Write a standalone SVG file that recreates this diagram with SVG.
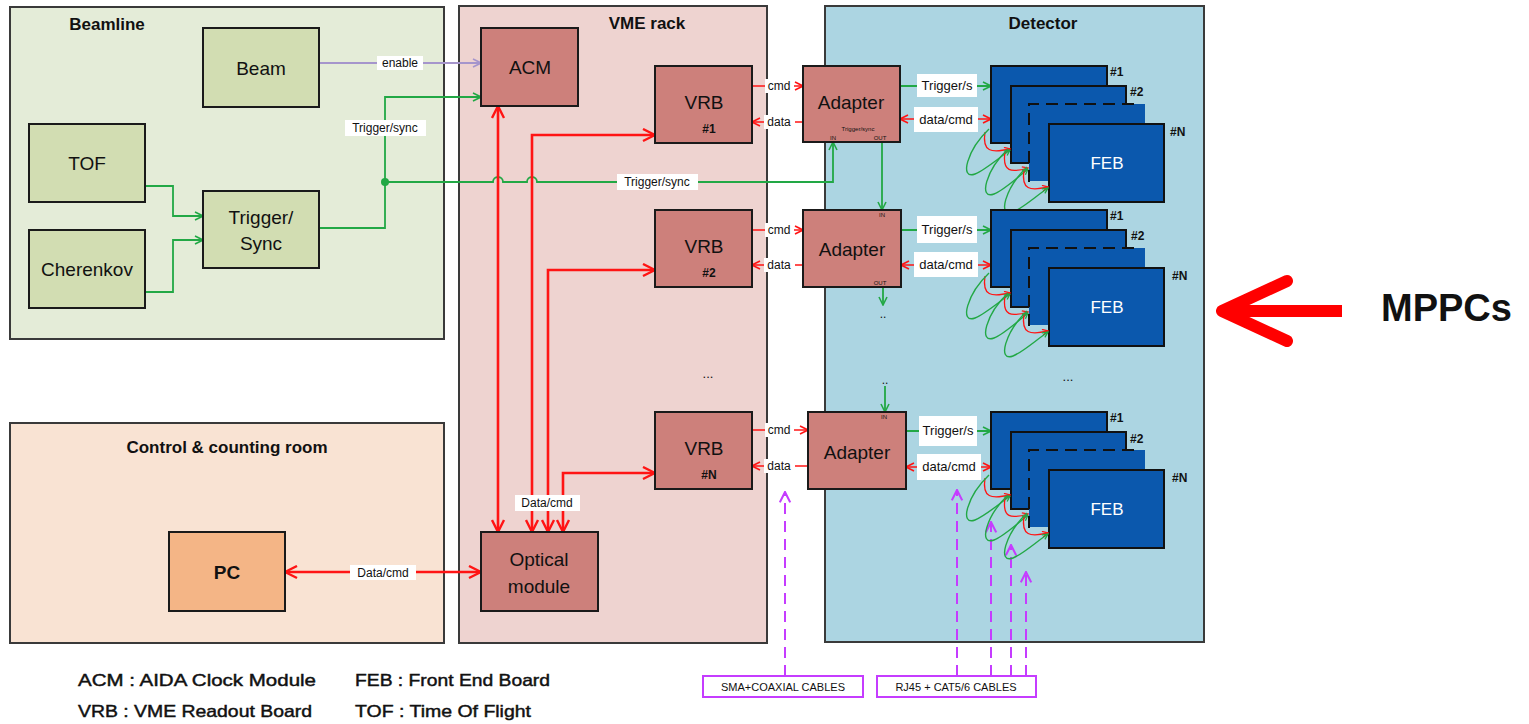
<svg xmlns="http://www.w3.org/2000/svg" xmlns:xlink="http://www.w3.org/1999/xlink" width="1529" height="724" viewBox="0 0 1529 724">
  <style>
    text { font-family: "Liberation Sans", Arial, sans-serif; fill: #111; }
    .panel { stroke: #3a3a3a; stroke-width: 2; }
    .title { font-size: 17px; font-weight: bold; text-anchor: middle; }
    .box { stroke: #1a1a1a; stroke-width: 2; }
    .green-box { fill: #d2ddb2; }
    .red-box { fill: #cd807b; }
    .lbl { font-size: 19px; text-anchor: middle; }
    .sub { font-size: 12px; text-anchor: middle; font-weight: bold; }
    .tiny { font-size: 6px; text-anchor: middle; }
    .feb { fill: #0b58ad; stroke: #111; stroke-width: 2; }
    .feblbl { font-size: 17px; text-anchor: middle; fill: #fff; }
    .num { font-size: 12px; font-weight: bold; }
    .tag { fill: #fff; }
    .cl { font-size: 12px; text-anchor: middle; }
    .cl2 { font-size: 13px; text-anchor: middle; }
    .g { fill: none; stroke: #22a845; stroke-width: 1.8; }
    .r { fill: none; stroke: #ff1414; stroke-width: 2.6; }
    .rs { fill: none; stroke: #ff1414; stroke-width: 1.6; }
    .p { fill: none; stroke: #a595cc; stroke-width: 1.8; }
    .pd { fill: none; stroke: #c53cff; stroke-width: 2; stroke-dasharray: 11 7; }
    .legend { font-size: 17px; stroke: #111; stroke-width: 0.45; }
    .cable { fill: #fff; stroke: #c53cff; stroke-width: 2; }
    .cabletxt { font-size: 11px; text-anchor: middle; }
    .loopr { fill: none; stroke: #ff1414; stroke-width: 1.3; }
    .loopg { fill: none; stroke: #22a845; stroke-width: 1.4; }
  </style>
  <defs>
    <marker id="aG" viewBox="0 0 10 10" refX="9" refY="5" markerWidth="10" markerHeight="10" markerUnits="userSpaceOnUse" orient="auto-start-reverse">
      <path d="M1,1 L9,5 L1,9" fill="none" stroke="#22a845" stroke-width="1.6"/>
    </marker>
    <marker id="aR" viewBox="0 0 10 10" refX="9" refY="5" markerWidth="15" markerHeight="15" markerUnits="userSpaceOnUse" orient="auto-start-reverse">
      <path d="M1,1 L9,5 L1,9" fill="none" stroke="#ff1414" stroke-width="1.6"/>
    </marker>
    <marker id="aRs" viewBox="0 0 10 10" refX="9" refY="5" markerWidth="10" markerHeight="10" markerUnits="userSpaceOnUse" orient="auto-start-reverse">
      <path d="M1,1 L9,5 L1,9" fill="none" stroke="#ff1414" stroke-width="1.6"/>
    </marker>
    <marker id="aRt" viewBox="0 0 10 10" refX="9" refY="5" markerWidth="7" markerHeight="7" markerUnits="userSpaceOnUse" orient="auto">
      <path d="M1,1 L9,5 L1,9" fill="none" stroke="#ff1414" stroke-width="1.8"/>
    </marker>
    <marker id="aGt" viewBox="0 0 10 10" refX="9" refY="5" markerWidth="7" markerHeight="7" markerUnits="userSpaceOnUse" orient="auto">
      <path d="M1,1 L9,5 L1,9" fill="none" stroke="#22a845" stroke-width="1.8"/>
    </marker>
    <marker id="aV" viewBox="0 0 10 10" refX="9" refY="5" markerWidth="10" markerHeight="10" markerUnits="userSpaceOnUse" orient="auto">
      <path d="M1,1 L9,5 L1,9" fill="none" stroke="#a595cc" stroke-width="1.6"/>
    </marker>
    <marker id="aP" viewBox="0 0 10 10" refX="9" refY="5" markerWidth="13" markerHeight="13" markerUnits="userSpaceOnUse" orient="auto">
      <path d="M1,1 L9,5 L1,9" fill="none" stroke="#c53cff" stroke-width="1.6"/>
    </marker>

    <!-- stack of front end boards, origin at top-left of board #1 -->
    <g id="febStack">
      <rect class="feb" x="0" y="0" width="116" height="77"/>
      <rect class="feb" x="20" y="20" width="115" height="77"/>
      <rect x="38" y="38" width="116" height="77" fill="#0b58ad"/>
      <path d="M38,116 V38 H150" fill="none" stroke="#111" stroke-width="2" stroke-dasharray="12 7"/>
      <rect class="feb" x="58" y="58" width="115" height="78"/>
      <text class="feblbl" x="116" y="103">FEB</text>
      <!-- daisy-chain cables between boards -->
      <g>
        <path class="loopr" d="M-6,66 C-9,86 0,87 19,83" marker-end="url(#aRt)"/>
        <path class="loopg" d="M-2,63 C-24,84 -32,114 -16,108 C-6,104 8,92 19,84" marker-end="url(#aGt)"/>
        <path class="loopr" d="M14,86 C11,106 20,107 37,102" marker-end="url(#aRt)"/>
        <path class="loopg" d="M17,83 C-5,104 -13,134 3,128 C13,124 26,112 37,103" marker-end="url(#aGt)"/>
        <path class="loopr" d="M33,104 C30,124 39,125 57,121" marker-end="url(#aRt)"/>
        <path class="loopg" d="M36,101 C14,122 6,152 22,146 C32,142 45,130 57,122" marker-end="url(#aGt)"/>
      </g>
    </g>
  </defs>

  <rect width="1529" height="724" fill="#fff"/>

  <!-- areas -->
  <g id="beamline-area">
    <rect class="panel" x="10" y="7" width="434" height="332" fill="#e4ecd8"/>
    <text class="title" x="107" y="30">Beamline</text>
  </g>
  <g id="vme-rack-area">
    <rect class="panel" x="459" y="6" width="308" height="637" fill="#eed3d0"/>
    <text class="title" x="647" y="29">VME rack</text>
  </g>
  <g id="detector-area">
    <rect class="panel" x="825" y="6" width="379" height="636" fill="#acd5e2"/>
    <text class="title" x="1043" y="29">Detector</text>
  </g>
  <g id="control-room-area">
    <rect class="panel" x="10" y="423" width="434" height="220" fill="#f9e3d3"/>
    <text class="title" x="227" y="453">Control &amp; counting room</text>
  </g>

  <!-- connectors -->
  <g id="connectors">
    <!-- beamline -->
    <path class="p" d="M319,63 H481" marker-end="url(#aV)"/>
    <path class="g" d="M145,186 H173 V216 H203" marker-end="url(#aG)"/>
    <path class="g" d="M145,292 H173 V240 H203" marker-end="url(#aG)"/>
    <path class="g" d="M319,228 H385 V97 H481" marker-end="url(#aG)"/>
    <path class="g" d="M385,182 H493 a5,5 0 0 1 10,0 H527 a5,5 0 0 1 10,0 H833 V142" marker-end="url(#aG)"/>
    <circle cx="385" cy="182" r="4" fill="#22a845"/>

    <!-- VME rack data/cmd -->
    <path class="r" d="M498,106 V532" marker-start="url(#aR)" marker-end="url(#aR)"/>
    <path class="r" d="M532,532 V135 H655" marker-start="url(#aR)" marker-end="url(#aR)"/>
    <path class="r" d="M548,532 V270 H655" marker-start="url(#aR)" marker-end="url(#aR)"/>
    <path class="r" d="M563,532 V473 H655" marker-start="url(#aR)" marker-end="url(#aR)"/>
    <path class="r" d="M285,572 H481" marker-start="url(#aR)" marker-end="url(#aR)"/>

    <!-- VRB to adapter -->
    <path class="rs" d="M752,86 H803" marker-end="url(#aRs)"/>
    <path class="rs" d="M803,122 H752" marker-end="url(#aRs)"/>
    <path class="rs" d="M752,230 H803" marker-end="url(#aRs)"/>
    <path class="rs" d="M803,265 H752" marker-end="url(#aRs)"/>
    <path class="rs" d="M752,430 H808" marker-end="url(#aRs)"/>
    <path class="rs" d="M808,466 H752" marker-end="url(#aRs)"/>

    <!-- adapter to FEB -->
    <path class="g" d="M900,86 H991" marker-end="url(#aG)"/>
    <path class="rs" d="M900,119 H991" marker-start="url(#aRs)" marker-end="url(#aRs)"/>
    <path class="g" d="M901,230 H991" marker-end="url(#aG)"/>
    <path class="rs" d="M901,265 H991" marker-start="url(#aRs)" marker-end="url(#aRs)"/>
    <path class="g" d="M906,431 H991" marker-end="url(#aG)"/>
    <path class="rs" d="M906,467 H991" marker-start="url(#aRs)" marker-end="url(#aRs)"/>

    <!-- trigger/sync chain between adapters -->
    <path class="g" d="M882,142 V210" marker-end="url(#aG)"/>
    <path class="g" d="M883,287 V305" marker-end="url(#aG)"/>
    <path class="g" d="M885,386 V412" marker-end="url(#aG)"/>

    <!-- cables -->
    <path class="pd" d="M785,676 V492" marker-end="url(#aP)"/>
    <path class="pd" d="M957,676 V490" marker-end="url(#aP)"/>
    <path class="pd" d="M991,676 V522" marker-end="url(#aP)"/>
    <path class="pd" d="M1011,676 V545" marker-end="url(#aP)"/>
    <path class="pd" d="M1026,676 V572" marker-end="url(#aP)"/>

    <!-- connector labels -->
    <rect class="tag" x="377" y="56" width="46" height="14"/>
    <text class="cl" x="400" y="67">enable</text>
    <rect class="tag" x="345" y="120" width="81" height="16"/>
    <text class="cl" x="385" y="132">Trigger/sync</text>
    <rect class="tag" x="617" y="174" width="81" height="16"/>
    <text class="cl" x="657" y="186">Trigger/sync</text>
    <rect class="tag" x="515" y="495" width="65" height="16"/>
    <text class="cl" x="547" y="507">Data/cmd</text>
    <rect class="tag" x="350" y="565" width="66" height="15"/>
    <text class="cl" x="383" y="577">Data/cmd</text>

    <rect class="tag" x="765" y="79" width="29" height="14"/>
    <text class="cl" x="779" y="90">cmd</text>
    <rect class="tag" x="764" y="115" width="31" height="14"/>
    <text class="cl" x="779" y="126">data</text>
    <rect class="tag" x="765" y="223" width="29" height="14"/>
    <text class="cl" x="779" y="234">cmd</text>
    <rect class="tag" x="764" y="258" width="31" height="14"/>
    <text class="cl" x="779" y="269">data</text>
    <rect class="tag" x="765" y="423" width="29" height="14"/>
    <text class="cl" x="779" y="434">cmd</text>
    <rect class="tag" x="764" y="459" width="31" height="14"/>
    <text class="cl" x="779" y="470">data</text>

    <rect class="tag" x="917" y="74" width="60" height="23"/>
    <text class="cl2" x="947" y="90">Trigger/s</text>
    <rect class="tag" x="914" y="107" width="64" height="25"/>
    <text class="cl2" x="946" y="124">data/cmd</text>
    <rect class="tag" x="917" y="216" width="60" height="27"/>
    <text class="cl2" x="947" y="234">Trigger/s</text>
    <rect class="tag" x="914" y="252" width="64" height="25"/>
    <text class="cl2" x="946" y="269">data/cmd</text>
    <rect class="tag" x="919" y="416" width="58" height="30"/>
    <text class="cl2" x="948" y="435">Trigger/s</text>
    <rect class="tag" x="917" y="454" width="64" height="26"/>
    <text class="cl2" x="949" y="471">data/cmd</text>

    <text x="883" y="318" font-size="12" text-anchor="middle">..</text>
    <text x="885" y="384" font-size="12" text-anchor="middle">..</text>
  </g>

  <!-- beamline nodes -->
  <g id="beam">
    <rect class="box green-box" x="203" y="28" width="116" height="79"/>
    <text class="lbl" x="261" y="75">Beam</text>
  </g>
  <g id="tof">
    <rect class="box green-box" x="29" y="124" width="116" height="78"/>
    <text class="lbl" x="87" y="170">TOF</text>
  </g>
  <g id="cherenkov">
    <rect class="box green-box" x="29" y="230" width="116" height="78"/>
    <text class="lbl" x="87" y="276">Cherenkov</text>
  </g>
  <g id="trigger-sync">
    <rect class="box green-box" x="203" y="191" width="116" height="77"/>
    <text class="lbl" x="261" y="224">Trigger/</text>
    <text class="lbl" x="261" y="250">Sync</text>
  </g>

  <!-- VME rack nodes -->
  <g id="acm">
    <rect class="box red-box" x="481" y="28" width="97" height="78"/>
    <text class="lbl" x="530" y="74">ACM</text>
  </g>
  <g id="vrb-1">
    <rect class="box red-box" x="655" y="66" width="97" height="77"/>
    <text class="lbl" x="704" y="109">VRB</text>
    <text class="sub" x="709" y="133">#1</text>
  </g>
  <g id="vrb-2">
    <rect class="box red-box" x="655" y="210" width="97" height="77"/>
    <text class="lbl" x="704" y="253">VRB</text>
    <text class="sub" x="709" y="277">#2</text>
  </g>
  <g id="vrb-n">
    <rect class="box red-box" x="655" y="412" width="97" height="77"/>
    <text class="lbl" x="704" y="455">VRB</text>
    <text class="sub" x="709" y="479">#N</text>
  </g>
  <text x="708" y="378" font-size="13" text-anchor="middle">...</text>
  <g id="optical-module">
    <rect class="box red-box" x="481" y="532" width="117" height="79"/>
    <text class="lbl" x="539" y="566">Optical</text>
    <text class="lbl" x="539" y="593">module</text>
  </g>

  <!-- control room -->
  <g id="pc">
    <rect class="box" x="169" y="532" width="116" height="79" fill="#f4b586"/>
    <text class="lbl" x="227" y="579" font-weight="bold">PC</text>
  </g>

  <!-- detector adapters -->
  <g id="adapter-1">
    <rect class="box red-box" x="803" y="66" width="97" height="76"/>
    <text class="lbl" x="851" y="109" font-size="20">Adapter</text>
    <text class="tiny" x="858" y="131">Trigger/sync</text>
    <text class="tiny" x="833" y="140">IN</text>
    <text class="tiny" x="880" y="140">OUT</text>
  </g>
  <g id="adapter-2">
    <rect class="box red-box" x="803" y="210" width="98" height="77"/>
    <text class="lbl" x="852" y="256" font-size="20">Adapter</text>
    <text class="tiny" x="882" y="217">IN</text>
    <text class="tiny" x="880" y="285">OUT</text>
  </g>
  <g id="adapter-3">
    <rect class="box red-box" x="808" y="412" width="98" height="77"/>
    <text class="lbl" x="857" y="459" font-size="20">Adapter</text>
    <text class="tiny" x="884" y="419">IN</text>
  </g>

  <!-- front end board stacks -->
  <g id="feb-stack-1">
    <use xlink:href="#febStack" x="991" y="66"/>
    <text class="num" x="1110" y="76">#1</text>
    <text class="num" x="1130" y="96">#2</text>
    <text class="num" x="1170" y="136">#N</text>
  </g>
  <g id="feb-stack-2">
    <use xlink:href="#febStack" x="991" y="210"/>
    <text class="num" x="1110" y="220">#1</text>
    <text class="num" x="1131" y="240">#2</text>
    <text class="num" x="1172" y="280">#N</text>
  </g>
  <text x="1068" y="381" font-size="13" text-anchor="middle">...</text>
  <g id="feb-stack-3">
    <use xlink:href="#febStack" x="991" y="412"/>
    <text class="num" x="1110" y="422">#1</text>
    <text class="num" x="1130" y="443">#2</text>
    <text class="num" x="1172" y="482">#N</text>
  </g>

  <!-- cable type boxes -->
  <g id="sma-cables">
    <rect class="cable" x="703" y="676" width="160" height="21"/>
    <text class="cabletxt" x="783" y="691">SMA+COAXIAL CABLES</text>
  </g>
  <g id="rj45-cables">
    <rect class="cable" x="877" y="676" width="159" height="21"/>
    <text class="cabletxt" x="956" y="691">RJ45 + CAT5/6 CABLES</text>
  </g>

  <!-- MPPCs pointer -->
  <g id="mppcs">
    <path d="M1342,311 H1228" fill="none" stroke="#ff0000" stroke-width="12"/>
    <path d="M1287,281 L1222,311 L1287,341" fill="none" stroke="#ff0000" stroke-width="12" stroke-linecap="round" stroke-linejoin="round"/>
    <text x="1381" y="321" font-size="38" font-weight="bold" fill="#000">MPPCs</text>
  </g>

  <!-- abbreviations -->
  <g id="legend">
    <text class="legend" x="78" y="686" textLength="238" lengthAdjust="spacingAndGlyphs">ACM : AIDA Clock Module</text>
    <text class="legend" x="355" y="686" textLength="195" lengthAdjust="spacingAndGlyphs">FEB : Front End Board</text>
    <text class="legend" x="78" y="717" textLength="234" lengthAdjust="spacingAndGlyphs">VRB : VME Readout Board</text>
    <text class="legend" x="355" y="717" textLength="176" lengthAdjust="spacingAndGlyphs">TOF : Time Of Flight</text>
  </g>
</svg>
